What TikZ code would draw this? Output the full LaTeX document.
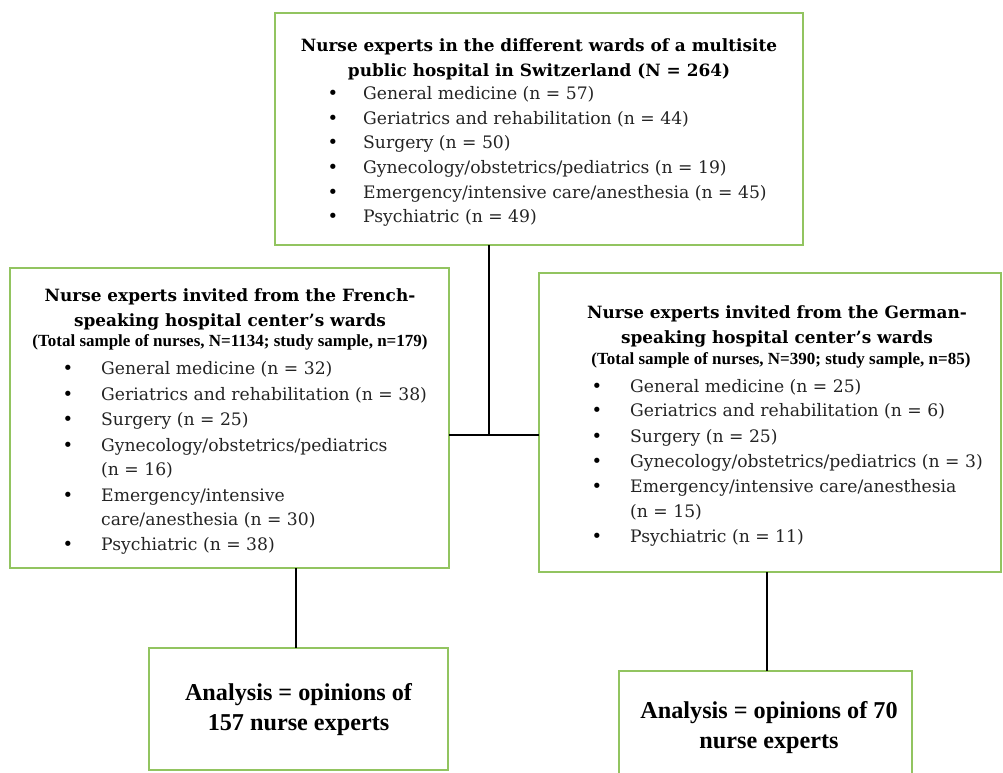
\documentclass[tikz,border=0pt]{standalone}
\usepackage{fontspec}
\setmainfont{DejaVu Serif}
\newfontfamily\timesfont{Liberation Serif}
\definecolor{boxgreen}{RGB}{146,196,96}
\definecolor{ink}{RGB}{35,35,35}
\tikzset{
  box/.style={draw=boxgreen, line width=2.4pt, inner sep=0pt, outer sep=0pt, rectangle},
  ttl/.style={font=\fontsize{16.9}{20}\selectfont\bfseries, anchor=base, inner sep=0pt, text=black},
  itm/.style={font=\fontsize{17.2}{20}\selectfont, anchor=base west, inner sep=0pt, text=ink},
  bul/.style={font=\fontsize{18}{20}\selectfont, anchor=base, inner sep=0pt, text=black},
  subttl/.style={font=\timesfont\fontsize{17}{19}\selectfont\bfseries, anchor=base, inner sep=0pt, text=black},
  ana/.style={font=\timesfont\fontsize{24.2}{27}\selectfont\bfseries, anchor=base, inner sep=0pt, text=black},
  link/.style={line width=2pt, draw=black}
}
\begin{document}
\begin{tikzpicture}[x=1pt,y=-1pt]
\useasboundingbox (0,0) rectangle (1003,772);
\begin{scope}
\clip (0,0) rectangle (1003,772);
% boxes
\node[box, minimum width=528pt, minimum height=232pt] (top) at (539,129) {};
\node[box, minimum width=439pt, minimum height=300pt] (left) at (229.5,418) {};
\node[box, minimum width=462pt, minimum height=299pt] (right) at (770,422.5) {};
\node[box, minimum width=299pt, minimum height=122pt] (botL) at (298.5,709) {};
\node[box, minimum width=293pt, minimum height=110pt] (botR) at (765.5,726) {};
\end{scope}
% connectors
\coordinate (j) at (489,435);
\draw[link] (top.south -| j) -- (j);
\draw[link] (left.east |- j) -- (right.west |- j);
\draw[link] ([xshift=-2.5pt]botL.north |- left.south) -- ([xshift=-2.5pt]botL.north);
\draw[link] ([xshift=1.5pt]botR.north |- right.south) -- ([xshift=1.5pt]botR.north);
% top box text
\node[ttl] (t1) at (539,51) {Nurse experts in the different wards of a multisite};
\node[ttl] (t2) at (539,76) {public hospital in Switzerland (N = 264)};
\foreach \y/\t [count=\i] in {99/{General medicine (n = 57)},124/{Geriatrics and rehabilitation (n = 44)},148/{Surgery (n = 50)},173/{Gynecology/obstetrics/pediatrics (n = 19)},198/{Emergency/intensive care/anesthesia (n = 45)},222/{Psychiatric (n = 49)}}{
  \node[bul] (tb\i) at (333,\y) {•};
  \node[itm] (ti\i) at (363,\y) {\t};
}
% left box text
\node[ttl] (l1) at (230,301) {Nurse experts invited from the French-};
\node[ttl] (l2) at (230,326) {speaking hospital center’s wards};
\node[subttl] (l3) at (230,346) {(Total sample of nurses, N=1134; study sample, n=179)};
\foreach \y/\t [count=\i] in {374/{General medicine (n = 32)},400/{Geriatrics and rehabilitation (n = 38)},425/{Surgery (n = 25)},451/{Gynecology/obstetrics/pediatrics},475/{(n = 16)},501/{Emergency/intensive},525/{care/anesthesia (n = 30)},550/{Psychiatric (n = 38)}}{
  \node[itm] (li\i) at (101,\y) {\t};
}
\foreach \y [count=\i] in {374,400,425,451,501,550}{
  \node[bul] (lb\i) at (68,\y) {•};
}
% right box text
\node[ttl] (r1) at (777,318) {Nurse experts invited from the German-};
\node[ttl] (r2) at (777,343) {speaking hospital center’s wards};
\node[subttl] (r3) at (781,364) {(Total sample of nurses, N=390; study sample, n=85)};
\foreach \y/\t [count=\i] in {392/{General medicine (n = 25)},416/{Geriatrics and rehabilitation (n = 6)},442/{Surgery (n = 25)},467/{Gynecology/obstetrics/pediatrics (n = 3)},492/{Emergency/intensive care/anesthesia},517/{(n = 15)},542/{Psychiatric (n = 11)}}{
  \node[itm] (ri\i) at (630,\y) {\t};
}
\foreach \y [count=\i] in {392,416,442,467,492,542}{
  \node[bul] (rb\i) at (597,\y) {•};
}
% analysis boxes text
\node[ana] (a1) at (298.5,700) {Analysis = opinions of};
\node[ana] (a2) at (298.5,730) {157 nurse experts};
\node[ana] (b1) at (769,718) {Analysis = opinions of 70};
\node[ana] (b2) at (769,748) {nurse experts};
\end{tikzpicture}
\end{document}
